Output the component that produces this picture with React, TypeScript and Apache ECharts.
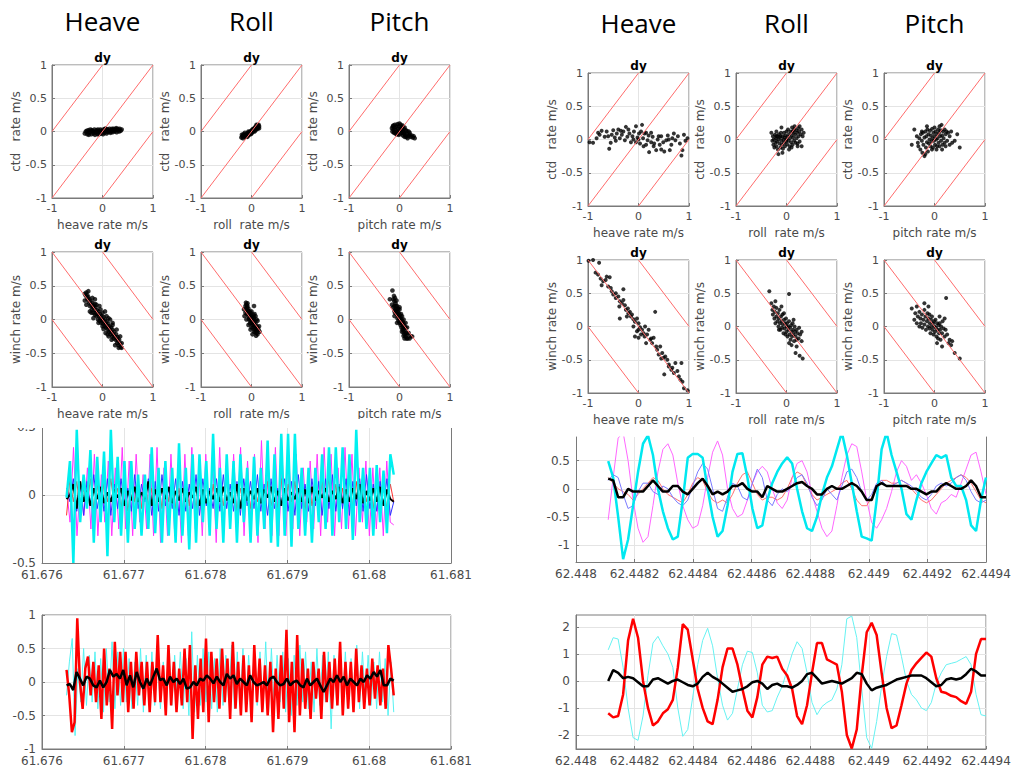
import React, { useEffect, useRef } from "react";
import * as echarts from "echarts";

// ---------- texts ----------
const GROUP_TITLES = ["Heave", "Roll", "Pitch"];
const PANEL_TITLE = "dy";
const X_NAMES = ["heave rate m/s", "roll  rate m/s", "pitch rate m/s"];
const Y_NAME_CTD = "ctd   rate m/s";
const Y_NAME_WINCH = "winch rate m/s";

// ---------- reference lines (y = ±x, ±x ± 1) ----------
const DIAG_UP = [
  [[-1, -1], [1, 1]],
  [[-1, 0], [0, 1]],
  [[0, -1], [1, 0]],
];
const DIAG_DOWN = [
  [[-1, 1], [1, -1]],
  [[-1, 0], [0, -1]],
  [[0, 1], [1, 0]],
];

// ---------- scatter data, left block ----------
const L_CTD_HEAVE = [
  [-0.35, -0.03], [-0.33, 0.0], [-0.3, -0.04], [-0.28, 0.02], [-0.26, -0.02], [-0.24, 0.03], [-0.22, -0.04], [-0.2, 0.01],
  [-0.18, -0.03], [-0.16, 0.03], [-0.14, -0.01], [-0.12, 0.02], [-0.1, -0.04], [-0.08, 0.01], [-0.06, -0.02], [-0.04, 0.03],
  [-0.02, -0.03], [0.0, 0.0], [0.02, 0.03], [0.04, -0.02], [0.06, 0.02], [0.08, -0.03], [0.1, 0.03], [0.12, -0.01],
  [0.14, 0.04], [0.16, -0.02], [0.18, 0.02], [0.2, -0.01], [0.22, 0.04], [0.24, 0.0], [0.26, 0.03], [0.28, -0.01],
  [0.3, 0.04], [0.32, 0.02], [0.34, 0.04], [0.36, 0.01], [0.38, 0.03], [-0.31, 0.01], [-0.27, -0.05], [-0.21, 0.02],
  [-0.15, -0.05], [-0.09, 0.03], [-0.03, 0.01], [0.03, 0.0], [0.09, 0.0], [0.15, 0.01], [0.21, 0.02], [0.27, 0.05],
  [0.33, 0.0], [-0.19, 0.0], [-0.11, 0.0], [0.05, 0.04], [0.11, 0.02], [0.19, 0.04], [0.25, 0.02], [-0.25, 0.0],
  [-0.07, -0.04], [0.01, -0.04], [0.07, 0.04], [0.17, 0.0],
];
const L_CTD_ROLL = [
  [-0.2, -0.09], [-0.18, -0.07], [-0.17, -0.1], [-0.15, -0.06], [-0.14, -0.08], [-0.12, -0.05], [-0.11, -0.08], [-0.1, -0.04],
  [-0.09, -0.06], [-0.08, -0.03], [-0.07, -0.06], [-0.06, -0.02], [-0.05, -0.05], [-0.04, -0.01], [-0.03, -0.03], [-0.02, 0.0],
  [-0.01, -0.02], [0.0, 0.01], [0.01, -0.01], [0.02, 0.03], [0.03, 0.0], [0.04, 0.04], [0.05, 0.02], [0.06, 0.05],
  [0.07, 0.03], [0.08, 0.07], [0.09, 0.04], [0.1, 0.08], [0.11, 0.05], [0.12, 0.09], [0.13, 0.06], [0.14, 0.1],
  [0.15, 0.08], [0.15, 0.05], [-0.16, -0.04], [-0.13, -0.02], [-0.1, -0.07], [-0.06, 0.0], [-0.02, -0.04], [0.02, 0.02],
  [0.06, 0.0], [0.1, 0.1], [0.12, 0.04], [-0.19, -0.05], [0.04, 0.01], [0.08, 0.02], [-0.08, -0.08], [0.0, -0.03],
];
const L_CTD_PITCH = [
  [-0.15, 0.05], [-0.14, 0.0], [-0.13, 0.08], [-0.12, 0.03], [-0.11, -0.02], [-0.1, 0.06], [-0.09, 0.1], [-0.08, 0.02],
  [-0.07, -0.03], [-0.06, 0.07], [-0.05, 0.0], [-0.04, 0.11], [-0.03, 0.04], [-0.02, -0.05], [-0.01, 0.08], [0.0, 0.02],
  [0.01, -0.04], [0.02, 0.1], [0.03, 0.05], [0.04, -0.02], [0.05, 0.07], [0.06, 0.0], [0.07, -0.06], [0.08, 0.04],
  [0.09, -0.03], [0.1, 0.06], [0.11, -0.05], [0.12, 0.02], [0.13, -0.08], [0.14, 0.01], [0.15, -0.04], [0.17, -0.07],
  [0.18, 0.0], [0.2, -0.05], [0.22, -0.08], [0.24, -0.06], [0.26, -0.09], [0.28, -0.07], [0.3, -0.1], [-0.12, 0.09],
  [-0.06, -0.04], [0.0, 0.12], [0.06, 0.09], [0.1, -0.08], [0.16, -0.1], [0.2, -0.02], [-0.1, -0.01], [-0.03, -0.02],
  [0.04, 0.03], [0.08, -0.01],
];
const L_WINCH_HEAVE = [
  [-0.35, 0.38], [-0.33, 0.35], [-0.32, 0.4], [-0.3, 0.3], [-0.3, 0.36], [-0.28, 0.33], [-0.27, 0.25], [-0.26, 0.3],
  [-0.25, 0.2], [-0.24, 0.27], [-0.22, 0.22], [-0.21, 0.15], [-0.2, 0.25], [-0.19, 0.18], [-0.18, 0.1], [-0.17, 0.2],
  [-0.16, 0.14], [-0.15, 0.07], [-0.14, 0.18], [-0.13, 0.1], [-0.12, 0.05], [-0.11, 0.14], [-0.1, 0.08], [-0.09, 0.0],
  [-0.08, 0.12], [-0.07, 0.05], [-0.06, -0.02], [-0.05, 0.08], [-0.04, 0.02], [-0.03, -0.05], [-0.02, 0.05], [-0.01, -0.01],
  [0.0, 0.0], [0.01, -0.06], [0.02, 0.04], [0.03, -0.03], [0.04, -0.1], [0.05, 0.0], [0.06, -0.06], [0.07, -0.12],
  [0.08, -0.03], [0.09, -0.09], [0.1, -0.15], [0.11, -0.06], [0.12, -0.12], [0.13, -0.18], [0.14, -0.1], [0.15, -0.16],
  [0.16, -0.22], [0.17, -0.12], [0.18, -0.19], [0.19, -0.25], [0.2, -0.15], [0.21, -0.22], [0.22, -0.28], [0.23, -0.18],
  [0.24, -0.25], [0.26, -0.3], [0.27, -0.22], [0.28, -0.28], [0.29, -0.35], [0.3, -0.26], [0.31, -0.32], [0.32, -0.38],
  [0.33, -0.3], [0.35, -0.36], [0.36, -0.41], [0.38, -0.35], [0.2, -0.08], [0.08, 0.05], [-0.15, 0.23], [-0.22, 0.1],
  [0.12, -0.25], [0.0, 0.1], [0.0, -0.1],
  [-0.32, 0.22], [-0.28, 0.42], [-0.25, 0.12], [-0.2, 0.32], [-0.18, 0.02], [-0.12, 0.22], [-0.08, -0.05], [-0.04, 0.15],
  [0.02, -0.14], [0.05, 0.12], [0.1, -0.22], [0.12, 0.02], [0.18, -0.3], [0.2, -0.05], [0.25, -0.38], [0.28, -0.15],
  [0.32, -0.42], [0.35, -0.25], [0.38, -0.42], [-0.35, 0.28], [0.15, 0.0], [-0.15, 0.3], [0.06, -0.2], [-0.06, 0.2],
];
const L_WINCH_ROLL = [
  [-0.12, 0.2], [-0.11, 0.25], [-0.1, 0.15], [-0.1, 0.22], [-0.09, 0.18], [-0.08, 0.1], [-0.08, 0.2], [-0.07, 0.13],
  [-0.06, 0.05], [-0.06, 0.16], [-0.05, 0.09], [-0.04, 0.02], [-0.04, 0.12], [-0.03, 0.06], [-0.02, -0.02], [-0.02, 0.1],
  [-0.01, 0.03], [0.0, -0.05], [0.0, 0.05], [0.01, -0.01], [0.02, -0.08], [0.02, 0.04], [0.03, -0.04], [0.04, -0.12],
  [0.04, 0.0], [0.05, -0.07], [0.06, -0.15], [0.06, -0.03], [0.07, -0.1], [0.08, -0.18], [0.08, -0.06], [0.09, -0.13],
  [0.1, -0.2], [0.1, -0.1], [0.11, -0.16], [0.12, -0.22], [0.12, -0.12], [-0.05, 0.0], [0.05, 0.03], [0.0, 0.12],
  [0.0, -0.12], [-0.09, 0.08], [0.09, -0.24], [-0.03, -0.06], [0.03, 0.07], [0.14, -0.15], [0.05, 0.2],
  [-0.15, 0.15], [-0.14, 0.05], [-0.1, 0.0], [-0.06, -0.08], [0.08, 0.05], [0.12, -0.02], [0.15, -0.1], [0.16, -0.18],
  [0.02, -0.22], [-0.12, 0.1], [0.1, 0.0], [0.05, -0.18], [-0.08, 0.24], [0.06, 0.08], [-0.02, -0.15],
];
const L_WINCH_PITCH = [
  [-0.12, 0.3], [-0.11, 0.35], [-0.1, 0.2], [-0.1, 0.27], [-0.09, 0.32], [-0.08, 0.15], [-0.08, 0.24], [-0.07, 0.2],
  [-0.07, 0.1], [-0.06, 0.28], [-0.06, 0.15], [-0.05, 0.08], [-0.05, 0.2], [-0.04, 0.12], [-0.04, 0.02], [-0.03, 0.16],
  [-0.03, 0.06], [-0.02, -0.02], [-0.02, 0.1], [-0.01, 0.03], [0.0, -0.05], [0.0, 0.07], [0.01, 0.0], [0.02, -0.08],
  [0.02, 0.04], [0.03, -0.03], [0.04, -0.12], [0.04, 0.0], [0.05, -0.06], [0.06, -0.15], [0.06, -0.03], [0.07, -0.1],
  [0.08, -0.18], [0.08, -0.06], [0.09, -0.13], [0.1, -0.22], [0.1, -0.1], [0.11, -0.16], [0.12, -0.25], [0.12, -0.12],
  [0.13, -0.2], [0.14, -0.28], [0.15, -0.22], [-0.09, 0.1], [0.05, 0.05], [-0.1, 0.13], [0.0, 0.18], [0.08, -0.24],
  [-0.14, 0.43], [-0.19, 0.3],
  [-0.15, 0.22], [-0.1, 0.05], [-0.05, -0.05], [0.05, -0.18], [0.1, -0.28], [0.15, -0.12], [0.18, -0.2], [0.2, -0.28],
  [0.22, -0.25], [0.25, -0.25], [0.0, 0.15], [0.08, 0.0], [0.12, -0.05], [-0.12, 0.18], [0.03, 0.08], [0.16, -0.28],
];

// ---------- scatter data, right block ----------
const R_CTD_HEAVE = [
  [-0.97, -0.04], [-0.9, -0.05], [-0.83, 0.02], [-0.77, 0.07], [-0.73, 0.13], [-0.67, 0.04], [-0.63, 0.12], [-0.58, -0.14],
  [-0.53, 0.07], [-0.5, 0.14], [-0.47, 0.03], [-0.43, 0.09], [-0.4, 0.15], [-0.37, 0.02], [-0.33, 0.07], [-0.3, 0.12],
  [-0.27, -0.01], [-0.25, 0.19], [-0.22, 0.04], [-0.18, 0.09], [-0.15, -0.04], [-0.12, 0.05], [-0.09, 0.12], [-0.05, -0.04],
  [-0.02, 0.03], [0.01, 0.09], [0.03, -0.06], [0.07, 0.22], [0.09, 0.02], [0.12, 0.09], [0.15, -0.08], [0.18, -0.01],
  [0.21, -0.19], [0.25, -0.04], [0.28, 0.04], [0.31, -0.06], [0.35, -0.16], [0.38, 0.0], [0.42, -0.08], [0.45, 0.05],
  [0.49, -0.04], [0.51, -0.18], [0.55, -0.01], [0.58, 0.06], [0.62, -0.16], [0.67, 0.02], [0.7, 0.09], [0.73, -0.01],
  [0.78, 0.05], [0.82, -0.06], [0.85, -0.24], [0.87, -0.16], [0.9, 0.07], [0.93, -0.02], [0.97, 0.02], [-0.6, 0.05],
  [-0.45, -0.02], [-0.35, 0.13], [-0.2, 0.15], [-0.1, 0.0], [0.0, 0.0], [0.05, 0.12], [0.1, -0.1], [0.2, 0.06],
  [0.3, -0.1], [0.4, 0.05], [0.45, -0.15], [0.6, 0.0], [0.65, -0.08], [-0.8, 0.1], [-0.55, -0.05], [0.15, 0.1],
  [-0.05, 0.2], [0.25, 0.1],
];
const R_CTD_ROLL = [
  [-0.3, 0.1], [-0.28, -0.02], [-0.27, 0.05], [-0.26, -0.08], [-0.25, 0.0], [-0.24, -0.12], [-0.23, 0.07], [-0.22, -0.05],
  [-0.21, 0.02], [-0.2, -0.1], [-0.2, 0.12], [-0.19, -0.03], [-0.18, 0.05], [-0.17, -0.15], [-0.16, 0.0], [-0.16, -0.22],
  [-0.15, 0.08], [-0.14, -0.06], [-0.13, 0.03], [-0.12, -0.12], [-0.11, 0.1], [-0.1, -0.02], [-0.1, 0.18], [-0.09, -0.08],
  [-0.08, 0.05], [-0.07, -0.14], [-0.06, 0.0], [-0.05, 0.1], [-0.05, -0.05], [-0.04, 0.03], [-0.03, -0.1], [-0.02, 0.06],
  [-0.01, -0.03], [0.0, 0.12], [0.0, 0.0], [0.01, -0.07], [0.02, 0.04], [0.03, 0.15], [0.04, -0.02], [0.05, 0.08],
  [0.06, -0.1], [0.07, 0.02], [0.08, 0.12], [0.09, -0.04], [0.1, 0.06], [0.11, 0.18], [0.12, -0.08], [0.13, 0.03],
  [0.14, 0.1], [0.15, -0.02], [0.16, 0.2], [0.17, 0.07], [0.18, -0.05], [0.19, 0.14], [0.2, 0.02], [0.21, 0.1],
  [0.22, -0.06], [0.23, 0.17], [0.24, 0.05], [0.25, 0.12], [0.26, -0.03], [0.28, 0.08], [0.3, 0.15], [0.32, 0.05],
  [0.34, 0.1], [0.3, -0.1], [0.22, -0.1], [0.15, 0.15], [-0.12, 0.05], [-0.2, 0.05], [0.05, -0.15], [0.1, -0.12],
  [-0.08, -0.2], [0.12, 0.12], [0.26, 0.2],
];
const R_CTD_PITCH = [
  [-0.45, -0.08], [-0.4, 0.15], [-0.35, 0.05], [-0.33, -0.05], [-0.32, -0.1], [-0.3, 0.02], [-0.28, -0.15], [-0.27, 0.08],
  [-0.25, -0.02], [-0.24, -0.2], [-0.23, 0.1], [-0.22, -0.08], [-0.2, 0.03], [-0.2, -0.25], [-0.18, 0.12], [-0.17, -0.12],
  [-0.16, 0.05], [-0.15, -0.04], [-0.14, 0.15], [-0.13, -0.18], [-0.12, 0.08], [-0.11, -0.06], [-0.1, 0.0], [-0.09, 0.13],
  [-0.08, -0.1], [-0.07, 0.06], [-0.06, -0.03], [-0.05, 0.16], [-0.04, 0.02], [-0.03, -0.12], [-0.02, 0.1], [-0.01, -0.02],
  [0.0, 0.05], [0.0, 0.18], [0.01, -0.08], [0.02, 0.12], [0.03, 0.0], [0.04, -0.15], [0.05, 0.08], [0.06, 0.02],
  [0.07, 0.15], [0.08, -0.05], [0.09, 0.1], [0.1, 0.2], [0.1, -0.1], [0.11, 0.05], [0.12, 0.14], [0.13, -0.02],
  [0.14, 0.22], [0.15, 0.06], [0.16, -0.08], [0.17, 0.12], [0.18, 0.02], [0.2, 0.15], [0.2, -0.05], [0.22, 0.08],
  [0.24, 0.12], [0.25, -0.02], [0.27, 0.1], [0.3, 0.05], [0.3, -0.08], [0.33, 0.12], [0.35, -0.05], [0.4, -0.02],
  [0.45, 0.08], [0.5, -0.12], [-0.15, 0.2], [-0.05, -0.15], [0.05, -0.1], [0.15, -0.15], [-0.25, 0.12], [0.22, -0.1],
  [-0.18, -0.22],
];
const R_WINCH_HEAVE = [
  [-0.99, 0.99], [-0.9, 1.0], [-0.78, 0.96], [-0.85, 0.81], [-0.8, 0.78], [-0.75, 0.72], [-0.7, 0.68], [-0.73, 0.62],
  [-0.63, 0.75], [-0.57, 0.74], [-0.6, 0.6], [-0.53, 0.53], [-0.5, 0.48], [-0.45, 0.43], [-0.4, 0.45], [-0.37, 0.38],
  [-0.33, 0.35], [-0.3, 0.4], [-0.27, 0.32], [-0.25, 0.25], [-0.21, 0.27], [-0.3, 0.56], [-0.37, 0.12], [-0.23, 0.15],
  [-0.17, 0.22], [-0.13, 0.18], [-0.1, 0.11], [-0.07, 0.07], [-0.03, 0.12], [0.0, 0.05], [0.03, -0.01], [0.07, -0.05],
  [-0.03, -0.07], [-0.07, -0.15], [0.0, -0.17], [0.1, -0.1], [0.13, 0.0], [0.17, -0.12], [0.2, -0.05], [0.23, -0.2],
  [0.27, -0.25], [0.33, 0.22], [0.3, -0.17], [0.37, -0.35], [0.4, -0.42], [0.43, -0.3], [0.47, -0.4], [0.5, -0.47],
  [0.53, -0.45], [0.57, -0.5], [0.6, -0.57], [0.51, -0.72], [0.67, -0.62], [0.7, -0.7], [0.77, -0.67], [0.73, -0.55],
  [0.8, -0.75], [0.85, -0.55], [0.83, -0.8], [0.87, -0.83], [0.9, -0.93], [0.97, -0.96], [-0.45, 0.5], [-0.2, 0.2],
  [-0.15, 0.15], [0.05, -0.12], [0.12, -0.15], [0.25, -0.18], [0.45, -0.48], [-0.55, 0.58], [-0.65, 0.7], [0.65, -0.65],
  [0.35, -0.3], [0.6, -0.6], [-0.38, 0.3], [0.15, -0.25], [0.0, -0.05], [-0.1, 0.0],
];
const R_WINCH_ROLL = [
  [-0.3, 0.35], [-0.28, 0.25], [-0.27, 0.18], [-0.25, 0.3], [-0.24, 0.12], [-0.23, 0.22], [-0.22, 0.05], [-0.2, 0.15],
  [-0.2, 0.28], [-0.18, 0.08], [-0.17, 0.2], [-0.16, 0.0], [-0.15, 0.12], [-0.14, 0.25], [-0.13, 0.05], [-0.12, -0.05],
  [-0.11, 0.15], [-0.1, 0.08], [-0.09, -0.02], [-0.08, 0.18], [-0.07, 0.03], [-0.06, -0.1], [-0.05, 0.1], [-0.04, -0.03],
  [-0.03, 0.05], [-0.02, -0.12], [-0.01, 0.12], [0.0, 0.0], [0.0, -0.08], [0.01, 0.05], [0.02, -0.15], [0.03, 0.0],
  [0.04, -0.05], [0.05, 0.08], [0.06, -0.12], [0.07, -0.02], [0.08, -0.2], [0.09, 0.02], [0.1, -0.08], [0.11, -0.15],
  [0.12, 0.05], [0.13, -0.05], [0.14, -0.12], [0.15, -0.22], [0.16, 0.0], [0.17, -0.08], [0.18, -0.15], [0.2, -0.05],
  [0.2, -0.2], [0.22, -0.1], [0.24, -0.18], [0.25, -0.02], [0.27, -0.12], [0.3, -0.08], [0.3, -0.22], [-0.34, 0.53],
  [0.05, 0.49], [0.18, -0.4], [0.26, -0.44], [0.32, -0.48], [-0.05, 0.2], [0.1, -0.28], [0.2, -0.3], [-0.22, 0.38],
  [0.05, -0.25], [-0.15, -0.05], [-0.1, 0.3], [0.14, 0.1],
];
const R_WINCH_PITCH = [
  [-0.45, 0.27], [-0.4, 0.1], [-0.38, 0.2], [-0.35, 0.05], [-0.33, 0.15], [-0.3, 0.22], [-0.3, 0.0], [-0.28, 0.12],
  [-0.27, 0.05], [-0.25, 0.18], [-0.24, -0.02], [-0.22, 0.1], [-0.2, 0.25], [-0.2, 0.03], [-0.18, 0.15], [-0.17, -0.05],
  [-0.15, 0.08], [-0.14, 0.2], [-0.13, 0.0], [-0.12, 0.12], [-0.1, -0.03], [-0.1, 0.18], [-0.09, 0.05], [-0.08, -0.1],
  [-0.07, 0.1], [-0.06, 0.0], [-0.05, 0.15], [-0.04, -0.05], [-0.03, 0.05], [-0.02, -0.12], [-0.01, 0.08], [0.0, 0.0],
  [0.01, -0.08], [0.02, 0.1], [0.03, -0.02], [0.04, -0.15], [0.05, 0.05], [0.06, -0.05], [0.07, -0.18], [0.08, 0.02],
  [0.09, -0.1], [0.1, 0.05], [0.11, -0.05], [0.12, -0.2], [0.13, 0.0], [0.15, -0.1], [0.16, 0.08], [0.18, -0.03],
  [0.2, -0.15], [0.2, 0.12], [0.22, -0.05], [0.23, 0.43], [0.25, -0.12], [0.28, -0.25], [0.3, -0.2], [0.33, -0.28],
  [0.35, -0.22], [0.4, -0.4], [0.5, -0.48], [-0.2, 0.35], [-0.12, 0.3], [0.05, -0.25], [0.15, -0.3], [-0.35, 0.3],
  [0.1, 0.15],
];

// ---------- time series (uniformly sampled between start and end time) ----------
const LEFT_T = [61.6763, 61.6803];
const RIGHT_T = [62.44811, 62.4494];

const LT_CYAN = [
  -0.02, 0.25, -0.5, 0.48, -0.2, 0.15, -0.1, 0.33, -0.35, 0.28,
  -0.2, 0.32, -0.45, 0.48, -0.2, 0.28, -0.3, 0.25, -0.35, 0.25,
  -0.25, 0.15, -0.3, 0.15, -0.25, 0.35, -0.28, 0.2, -0.35, 0.25,
  -0.3, 0.2, -0.35, 0.38, -0.3, 0.2, -0.4, 0.3, -0.35, 0.3,
  -0.2, 0.25, -0.3, 0.45, -0.25, 0.2, -0.35, 0.3, -0.25, 0.25,
  -0.35, 0.3, -0.2, 0.2, -0.35, 0.28, -0.3, 0.2, -0.25, 0.4,
  -0.35, 0.3, -0.38, 0.45, -0.3, 0.45, -0.38, 0.45, -0.25, 0.2,
  -0.3, 0.2, -0.35, 0.2, -0.2, 0.3, -0.25, 0.35, -0.3, 0.35,
  -0.2, 0.35, -0.25, 0.3, -0.33, 0.48, -0.2, 0.2, -0.25, 0.2,
  -0.3, 0.22, -0.2, 0.18, -0.28, 0.3, 0.15,
];
const LT_MAGENTA = [
  0.05, -0.2, 0.35, -0.3, 0.1, -0.15, 0.2, -0.25, 0.3, -0.3, 0.15, -0.2, 0.25, -0.3, 0.2, -0.25, 0.35, -0.25, 0.25, -0.3,
  0.3, -0.2, 0.15, -0.25, 0.3, -0.3, 0.35, -0.35, 0.2, -0.3, 0.3, -0.25, 0.2, -0.35, 0.3, -0.3, 0.35, -0.25, 0.2, -0.3,
  0.3, -0.2, 0.25, -0.35, 0.35, -0.3, 0.2, -0.25, 0.3, -0.2, 0.35, -0.3, 0.25, -0.2, 0.3, -0.35, 0.4, -0.25, 0.2, -0.3,
  0.35, -0.3, 0.25, -0.3, 0.2, -0.25, 0.3, -0.3, 0.2, -0.2, 0.25, -0.25, 0.3, -0.3, 0.35, -0.2, 0.3, -0.3, 0.2, -0.25,
  0.35, -0.25, 0.3, -0.3, 0.2, -0.2, 0.25, -0.3, 0.2, -0.25, 0.2, -0.3, 0.25, -0.2, -0.22,
];
const LT_BLUE = [
  0.05, -0.05, 0.12, -0.12, 0.08, -0.15, 0.1, -0.08, 0.15, -0.1, 0.05, -0.12, 0.12, -0.15, 0.08, -0.1, 0.12, -0.08, 0.05, -0.12,
  0.15, -0.1, 0.08, -0.05, 0.12, -0.15, 0.1, -0.12, 0.15, -0.08, 0.05, -0.1, 0.12, -0.15, 0.1, -0.12, 0.08, -0.1, 0.15, -0.15,
  0.12, -0.08, 0.05, -0.1, 0.12, -0.12, 0.15, -0.1, 0.08, -0.12, 0.1, -0.15, 0.12, -0.08, 0.1, -0.1, 0.15, -0.12, 0.08, -0.15,
  0.12, -0.1, 0.05, -0.08, 0.12, -0.12, 0.1, -0.15, 0.15, -0.1, 0.08, -0.12, 0.12, -0.08, 0.1, -0.15, 0.12, -0.1, 0.15, -0.12,
  0.08, -0.1, 0.12, -0.15, 0.1, -0.08, 0.12, -0.12, 0.15, -0.1, 0.08, -0.12, 0.1, -0.08, 0.12, -0.15, -0.05,
];
const LT_RED = [
  -0.15, 0.12, -0.05, 0.1, -0.1, 0.05, -0.08, 0.12, -0.1, 0.08, -0.12, 0.1, -0.05, 0.12, -0.08, 0.05, -0.1, 0.1, -0.12, 0.08,
  -0.05, 0.1, -0.1, 0.12, -0.08, 0.05, -0.12, 0.1, -0.1, 0.08, -0.05, 0.12, -0.1, 0.05, -0.12, 0.1, -0.08, 0.08, -0.1, 0.12,
  -0.05, 0.1, -0.12, 0.08, -0.1, 0.05, -0.08, 0.12, -0.1, 0.1, -0.12, 0.05, -0.08, 0.1, -0.1, 0.12, -0.05, 0.08, -0.12, 0.1,
  -0.08, 0.05, -0.1, 0.12, -0.12, 0.08, -0.05, 0.1, -0.1, 0.08, -0.12, 0.12, -0.08, 0.05, -0.1, 0.1, -0.05, 0.12, -0.12, 0.08,
  -0.1, 0.05, -0.08, 0.12, -0.1, 0.1, -0.12, 0.08, -0.05, 0.1, -0.1, 0.12, -0.08, 0.05, -0.1, 0.08, -0.05,
];
const LT_BLACK = [
  -0.03, 0.0, 0.08, -0.1, 0.1, -0.05, 0.03, -0.08, 0.05, -0.03, 0.06, -0.06, 0.02, -0.05, 0.04, -0.02, 0.05, -0.08, 0.03, -0.04,
  0.06, -0.05, 0.02, -0.03, 0.1, -0.08, 0.04, -0.05, 0.05, -0.03, 0.06, -0.06, 0.03, -0.04, 0.05, -0.05, 0.02, -0.02, 0.06, -0.08,
  0.04, -0.06, 0.03, -0.03, 0.05, -0.05, 0.06, -0.04, 0.02, -0.06, 0.08, -0.1, 0.05, -0.04, 0.03, -0.03, 0.05, -0.06, 0.04, -0.02,
  0.06, -0.05, 0.03, -0.08, 0.05, -0.04, 0.02, -0.03, 0.05, -0.05, 0.04, -0.06, 0.06, -0.04, 0.03, -0.02, 0.05, -0.05, 0.03, -0.03,
  0.06, -0.06, 0.04, -0.05, 0.05, -0.03, 0.08, -0.06, 0.03, -0.04, 0.05, -0.05, 0.06, -0.08, 0.04, -0.03, -0.05,
];

const LB_RED = [
  0.18, -0.2, -0.75, -0.6, 0.95, 0.0, -0.4, 0.2, 0.38, -0.2, 0.3, -0.3, 0.25, -0.55, 0.5, -0.35, 0.2, -0.7, 0.6, -0.2,
  0.45, -0.3, 0.45, -0.45, 0.3, -0.4, 0.45, -0.2, 0.3, -0.35, 0.3, -0.45, 0.3, -0.3, 0.7, -0.3, 0.25, -0.5, 0.55, -0.35,
  0.3, -0.45, 0.2, -0.35, 0.5, -0.3, 0.55, -0.85, 0.25, -0.55, 0.35, -0.45, 0.65, -0.6, 0.45, -0.3, 0.35, -0.4, 0.5, -0.3,
  0.35, -0.55, 0.6, -0.4, 0.3, -0.5, 0.4, -0.45, 0.25, -0.6, 0.55, -0.3, 0.35, -0.45, 0.25, -0.5, 0.3, -0.75, 0.2, -0.55,
  0.4, -0.4, 0.78, -0.6, 0.3, -0.75, 0.7, -0.5, 0.35, -0.4, 0.2, -0.55, 0.3, -0.25, 0.2, -0.55, 0.45, -0.3, 0.3, -0.4,
  0.35, -0.35, 0.6, -0.5, 0.3, -0.4, 0.3, -0.45, 0.5, -0.3, 0.25, -0.4, 0.2, -0.35, 0.35, -0.25, 0.25, -0.35, 0.2, -0.4,
  0.55, 0.2, -0.2,
];
const LB_CYAN = [
  -0.2, 0.3, 0.65, -0.8, 0.2, -0.3, 0.5, -0.35, 0.4, -0.3, 0.45, -0.4, 0.35, -0.45, 0.5, -0.3, 0.6, -0.4, 0.45, -0.35,
  0.5, -0.3, 0.35, -0.4, 0.3, -0.35, 0.5, -0.45, 0.4, -0.3, 0.45, -0.35, 0.35, -0.4, 0.3, -0.45, 0.5, -0.35, 0.4, -0.3,
  0.45, -0.4, 0.35, -0.5, 0.75, -0.45, 0.4, -0.35, 0.5, -0.3, 0.45, -0.4, 0.35, -0.45, 0.5, -0.35, 0.4, -0.3, 0.55, -0.4,
  0.45, -0.35, 0.5, -0.45, 0.4, -0.3, 0.55, -0.35, 0.45, -0.4, 0.6, -0.45, 0.5, -0.35, 0.4, -0.3, 0.45, -0.45, 0.35, -0.5,
  0.4, -0.35, 0.55, -0.3, 0.45, -0.4, 0.3, -0.45, 0.5, -0.35, 0.4, -0.3, 0.45, -0.7, 0.4, -0.35, 0.5, -0.3, 0.45, -0.4,
  0.35, -0.35, 0.55, -0.4, 0.45, -0.3, 0.4, -0.35, 0.3, -0.4, 0.45, -0.3, 0.35, -0.5, 0.3, -0.45,
];
const LB_BLACK = [
  -0.05, -0.03, -0.12, 0.15, 0.05, -0.05, 0.08, 0.05, -0.05, -0.08, 0.02, -0.08, 0.0, 0.18, 0.08, 0.12, 0.05, 0.18, -0.05, 0.1,
  -0.08, 0.15, 0.0, -0.1, 0.05, -0.05, 0.08, 0.2, 0.03, 0.05, -0.05, 0.08, 0.0, 0.05, -0.03, 0.05, -0.1, -0.08, 0.0, -0.05,
  0.05, 0.02, 0.1, 0.05, -0.02, 0.08, 0.0, -0.05, 0.12, 0.05, 0.1, -0.03, 0.05, 0.0, -0.05, 0.1, 0.0, -0.05, -0.03, 0.0,
  -0.05, 0.05, 0.08, 0.0, -0.05, -0.03, 0.05, -0.05, 0.0, 0.02, -0.05, -0.08, 0.05, -0.05, 0.0, 0.05, -0.05, -0.15, -0.05, 0.05,
  0.0, 0.1, 0.0, 0.08, -0.05, 0.05, 0.0, -0.05, 0.05, 0.0, 0.1, 0.05, 0.15, 0.08, 0.18, -0.05, -0.05, 0.05, 0.02,
];

const RT_CYAN = [
  0.49, 0.2, -0.5, -1.25, -0.9, -0.3, 0.3, 0.8, 0.95, 0.6, 0.0, -0.4, -0.7, -0.9, -0.85, -0.2, 0.55, 0.62, 0.62, 0.55,
  0.0, -0.5, -0.85, -0.75, -0.3, 0.3, 0.62, 0.63, 0.2, -0.35, -0.7, -0.65, -0.2, 0.1, 0.3, 0.45, 0.56, 0.45, 0.0, -0.4,
  -0.7, -0.75, -0.5, -0.1, 0.2, 0.4, 0.7, 1.0, 0.6, 0.1, -0.4, -0.85, -0.88, -0.92, -0.2, 0.7, 1.0, 0.6, 0.3, 0.0,
  -0.45, -0.55, -0.2, 0.1, 0.3, 0.45, 0.6, 0.55, 0.6, 0.2, 0.05, 0.05, -0.2, -0.65, -0.75, -0.2, 0.2,
];
const RT_MAGENTA = [
  -0.55, 0.2, 0.9, 1.0, 0.5, -0.2, -0.7, -0.95, -0.85, -0.3, 0.3, 0.7, 0.8, 0.6, 0.1, -0.3, -0.55, -0.7, -0.65, -0.3,
  0.2, 0.65, 0.85, 0.6, 0.0, -0.35, -0.5, -0.45, -0.2, 0.1, 0.3, 0.4, 0.3, 0.0, -0.25, -0.35, -0.2, 0.2, 0.45, 0.5,
  0.3, -0.1, -0.4, -0.7, -0.85, -0.75, -0.3, 0.2, 0.6, 0.8, 0.75, 0.3, -0.2, -0.6, -0.7, -0.55, -0.35, -0.05, 0.3, 0.5,
  0.4, 0.15, 0.25, 0.1, -0.1, -0.35, -0.45, -0.25, -0.2, -0.1, -0.15, 0.1, 0.35, 0.6, 0.65, 0.3, -0.1,
];
const RT_BLUE = [
  0.15, 0.25, 0.2, -0.1, -0.35, -0.3, -0.05, 0.1, 0.1, -0.05, -0.1, 0.05, 0.0, -0.15, -0.25, -0.3, -0.2, 0.05, 0.3, 0.45,
  0.35, 0.0, -0.35, -0.4, -0.15, 0.1, 0.05, -0.15, -0.2, 0.1, 0.35, 0.2, -0.2, -0.3, -0.1, 0.0, -0.05, 0.05, 0.2, 0.25,
  0.1, -0.15, -0.3, -0.2, 0.0, -0.1, -0.2, 0.05, 0.3, 0.35, 0.2, -0.05, -0.2, -0.1, 0.1, 0.15, 0.05, 0.05, 0.1, 0.15,
  0.1, 0.05, -0.05, -0.15, -0.2, -0.1, 0.05, 0.1, 0.05, 0.1, 0.2, 0.25, 0.15, -0.05, -0.2, -0.25, -0.2,
];
const RT_RED = [
  0.2, 0.1, 0.0, -0.05, -0.1, -0.2, -0.1, 0.0, 0.1, 0.2, 0.15, 0.0, -0.1, -0.15, -0.2, -0.25, -0.1, 0.1, 0.2, 0.15,
  -0.05, -0.2, -0.25, -0.2, -0.25, -0.1, 0.1, 0.25, 0.3, 0.1, -0.1, -0.2, -0.15, -0.15, -0.2, -0.15, 0.0, 0.2, 0.3, 0.25,
  0.05, -0.1, -0.2, -0.15, -0.1, -0.05, 0.0, 0.1, 0.15, 0.0, -0.2, -0.3, -0.3, -0.15, 0.05, 0.15, 0.15, 0.1, 0.1, 0.15,
  0.1, 0.0, -0.1, -0.2, -0.25, -0.2, -0.1, 0.0, 0.1, 0.15, 0.2, 0.25, 0.2, 0.1, -0.05, -0.2, -0.25,
];
const RT_BLACK = [
  0.18, 0.15, -0.15, -0.15, 0.0, -0.05, -0.05, -0.05, 0.05, 0.15, 0.05, -0.05, -0.05, 0.05, 0.05, -0.05, -0.1, 0.0, 0.1, 0.18,
  0.05, -0.1, -0.05, -0.1, -0.05, 0.05, 0.05, 0.1, 0.0, -0.05, -0.05, -0.15, 0.05, 0.0, -0.05, -0.05, 0.0, 0.05, 0.1, 0.12,
  0.05, 0.0, -0.1, -0.1, 0.0, 0.05, 0.0, 0.0, 0.05, 0.1, 0.05, -0.05, -0.2, -0.2, 0.05, 0.1, 0.05, 0.05, 0.05, 0.05,
  0.05, 0.0, 0.0, -0.05, -0.1, -0.05, -0.05, 0.05, 0.1, 0.05, 0.0, 0.0, 0.05, 0.15, 0.05, -0.15, -0.15,
];

const RB_RED = [
  -1.2, -1.35, -1.3, -0.5, 1.5, 2.3, 1.6, 0.0, -1.0, -1.65, -1.5, -1.2, -1.05, -0.7, 0.5, 2.1, 1.9, 0.8, -0.3, -1.0,
  -1.5, -1.6, -0.7, 0.5, 1.2, 1.2, 0.6, -0.3, -1.1, -1.35, -0.6, 0.6, 0.9, 0.85, 0.9, 0.45, 0.2, -0.3, -1.3, -1.6,
  -0.9, 0.3, 1.4, 1.4, 0.8, 0.7, 0.6, -0.4, -2.0, -2.5, -1.8, 0.2, 1.8, 2.15, 1.7, 0.3, -1.0, -1.75, -1.65, -0.9,
  -0.1, 0.4, 0.65, 0.85, 1.05, 0.9, 0.1, -0.4, -0.45, -0.55, -0.6, -0.75, -0.85, -0.4, 1.0, 1.55, 1.55,
];
const RB_CYAN = [
  1.15, 1.6, 1.55, 0.5, -1.0, -2.1, -2.2, -1.3, 0.2, 1.4, 1.65, 1.3, 1.0, 0.5, -1.0, -2.05, -1.8, -0.6, 0.6, 1.5,
  1.95, 1.3, 0.1, -0.9, -1.45, -1.2, -0.3, 0.6, 1.1, 1.05, 0.3, -0.9, -1.15, -1.1, -0.6, -0.2, 0.4, 1.0, 1.45, 1.2,
  0.3, -0.8, -1.25, -0.95, -0.8, -0.7, -0.3, 0.6, 2.3, 2.4, 1.6, -0.3, -2.1, -2.5, -1.5, -0.2, 0.9, 1.75, 1.7, 0.9,
  0.0, -0.5, -0.7, -1.0, -1.1, -0.8, -0.1, 0.3, 0.6, 0.65, 0.7, 0.8, 0.9, 0.6, -0.5, -1.25, -1.3,
];
const RB_BLACK = [
  0.0, 0.4, 0.3, 0.1, 0.15, 0.1, -0.05, -0.2, -0.2, 0.05, 0.1, 0.0, -0.1, 0.0, 0.05, -0.05, -0.15, -0.2, -0.1, 0.15,
  0.3, 0.15, 0.05, -0.1, -0.25, -0.4, -0.35, -0.3, -0.2, -0.05, 0.0, -0.1, -0.3, -0.15, -0.1, -0.2, -0.2, -0.25, -0.15, 0.0,
  0.25, 0.3, 0.1, -0.1, -0.05, 0.0, -0.05, -0.1, 0.0, 0.1, 0.3, 0.25, -0.1, -0.35, -0.25, -0.2, -0.15, -0.05, 0.05, 0.1,
  0.15, 0.2, 0.2, 0.2, 0.1, -0.05, -0.2, -0.15, 0.05, 0.1, 0.05, 0.1, 0.25, 0.45, 0.35, 0.2, 0.2,
];

// ---------- styling ----------
const FONT = "DejaVu Sans";
const AXIS_COLOR = "#7a7a7a";
const LABEL_COLOR = "#4a4a4a";
const GRID_COLOR = "#e4e4e4";
const DIAG_COLOR = "#ff6b6b";

function tsPairs(values: number[], span: number[]) {
  const n = values.length;
  return values.map((v, i) => [span[0] + ((span[1] - span[0]) * i) / (n - 1), v]);
}

function buildOption() {
  const grids: any[] = [];
  const xAxes: any[] = [];
  const yAxes: any[] = [];
  const series: any[] = [];
  const graphics: any[] = [];

  const axisCommon = {
    axisLine: { show: true, onZero: false, lineStyle: { color: AXIS_COLOR, width: 1 } },
    axisTick: { show: true, inside: true, length: 3, lineStyle: { color: AXIS_COLOR } },
    splitLine: { show: true, lineStyle: { color: GRID_COLOR, width: 1 } },
  };

  const leftCols = [52, 201, 349];
  const rightCols = [588, 736, 884];
  const colW = 101;

  const panels = [
    { cols: leftCols, top: 65, h: 133, pts: [L_CTD_HEAVE, L_CTD_ROLL, L_CTD_PITCH], diag: DIAG_UP, yName: Y_NAME_CTD, dot: 4.6 },
    { cols: leftCols, top: 252, h: 135, pts: [L_WINCH_HEAVE, L_WINCH_ROLL, L_WINCH_PITCH], diag: DIAG_DOWN, yName: Y_NAME_WINCH, dot: 4.6 },
    { cols: rightCols, top: 73, h: 133, pts: [R_CTD_HEAVE, R_CTD_ROLL, R_CTD_PITCH], diag: DIAG_UP, yName: Y_NAME_CTD, dot: 4 },
    { cols: rightCols, top: 260, h: 133, pts: [R_WINCH_HEAVE, R_WINCH_ROLL, R_WINCH_PITCH], diag: DIAG_DOWN, yName: Y_NAME_WINCH, dot: 4 },
  ];

  panels.forEach((row) => {
    row.cols.forEach((left, c) => {
      const gi = grids.length;
      grids.push({ left, top: row.top, width: colW, height: row.h, show: true, borderColor: AXIS_COLOR, borderWidth: 1 });
      const xi = xAxes.length;
      xAxes.push({
        type: "value", gridIndex: gi, min: -1, max: 1, interval: 1,
        name: X_NAMES[c], nameLocation: "middle", nameGap: 21,
        nameTextStyle: { fontFamily: FONT, fontSize: 12, color: LABEL_COLOR },
        axisLabel: { fontFamily: FONT, fontSize: 11, color: LABEL_COLOR, margin: 5 },
        ...axisCommon,
      });
      const yi = yAxes.length;
      yAxes.push({
        type: "value", gridIndex: gi, min: -1, max: 1, interval: 0.5,
        name: row.yName, nameLocation: "middle", nameGap: 27,
        nameTextStyle: { fontFamily: FONT, fontSize: 12, color: LABEL_COLOR },
        axisLabel: { fontFamily: FONT, fontSize: 11, color: LABEL_COLOR, margin: 5 },
        ...axisCommon,
      });
      series.push({
        type: "scatter", xAxisIndex: xi, yAxisIndex: yi, data: row.pts[c],
        symbol: "circle", symbolSize: row.dot, itemStyle: { color: "#000" }, silent: true, z: 2,
      });
      row.diag.forEach((seg) => {
        series.push({
          type: "line", xAxisIndex: xi, yAxisIndex: yi, data: seg, symbol: "none",
          lineStyle: { color: DIAG_COLOR, width: 1 }, silent: true, z: 3,
        });
      });
      graphics.push({
        type: "text", x: left + colW / 2, y: row.top - 1, z: 10,
        style: {
          text: PANEL_TITLE, font: `bold 12px "${FONT}"`, fill: "#000",
          textAlign: "center", align: "center", textVerticalAlign: "bottom", verticalAlign: "bottom",
        },
      });
    });
  });

  // group titles
  [leftCols, rightCols].forEach((cols, b) => {
    cols.forEach((left, c) => {
      graphics.push({
        type: "text", x: left + colW / 2, y: b === 0 ? 21 : 23, z: 10,
        style: {
          text: GROUP_TITLES[c], font: `26px "Open Sans"`, fill: "#000",
          textAlign: "center", align: "center", textVerticalAlign: "middle", verticalAlign: "middle",
        },
      });
    });
  });

  // time series panels
  const tsPanels = [
    {
      rect: { left: 42, top: 427, width: 409, height: 136 }, x: [61.676, 61.681, 0.001], y: [-0.5, 0.5], yTicks: [-0.5, 0, 0.5],
      topBorder: false, span: LEFT_T,
      lines: [
        { d: LT_MAGENTA, c: "#ff33ff", w: 1 }, { d: LT_RED, c: "#ff3030", w: 1 }, { d: LT_BLUE, c: "#3030ff", w: 1 },
        { d: LT_BLACK, c: "#000000", w: 2 }, { d: LT_CYAN, c: "#00f0f0", w: 2.5 },
      ],
    },
    {
      rect: { left: 576, top: 437, width: 410, height: 125 }, x: [62.448, 62.4494, 0.0002], y: [-1.3, 0.92], yTicks: [-1, -0.5, 0, 0.5],
      topBorder: false, span: RIGHT_T,
      lines: [
        { d: RT_MAGENTA, c: "#ff66ff", w: 1 }, { d: RT_RED, c: "#ff7070", w: 1 }, { d: RT_BLUE, c: "#7a7aff", w: 1 },
        { d: RT_CYAN, c: "#00e8f0", w: 2.5 }, { d: RT_BLACK, c: "#000000", w: 2.5 },
      ],
    },
    {
      rect: { left: 42, top: 615, width: 409, height: 134 }, x: [61.676, 61.681, 0.001], y: [-1, 1], yTicks: [-1, -0.5, 0, 0.5, 1],
      topBorder: true, span: LEFT_T,
      lines: [
        { d: LB_CYAN, c: "#55f2f2", w: 1 }, { d: LB_RED, c: "#ff0000", w: 2.5 }, { d: LB_BLACK, c: "#000000", w: 2.5 },
      ],
    },
    {
      rect: { left: 576, top: 615, width: 410, height: 134 }, x: [62.448, 62.4494, 0.0002], y: [-2.52, 2.44], yTicks: [-2, -1, 0, 1, 2],
      topBorder: true, span: RIGHT_T,
      lines: [
        { d: RB_CYAN, c: "#66f2f2", w: 1 }, { d: RB_RED, c: "#ff0000", w: 2.5 }, { d: RB_BLACK, c: "#000000", w: 2.5 },
      ],
    },
  ];

  tsPanels.forEach((p) => {
    const gi = grids.length;
    grids.push({ ...p.rect, show: p.topBorder, borderColor: AXIS_COLOR, borderWidth: 1 });
    const xi = xAxes.length;
    xAxes.push({
      type: "value", gridIndex: gi, min: p.x[0], max: p.x[1], interval: p.x[2],
      axisLabel: { fontFamily: FONT, fontSize: 12, color: LABEL_COLOR, margin: 6, interval: 0 },
      ...axisCommon,
    });
    const yi = yAxes.length;
    yAxes.push({
      type: "value", gridIndex: gi, min: p.y[0], max: p.y[1],
      axisLabel: { fontFamily: FONT, fontSize: 12, color: LABEL_COLOR, margin: 6, customValues: p.yTicks },
      ...axisCommon,
      axisTick: { ...axisCommon.axisTick, customValues: p.yTicks },
    });
    if (!p.topBorder) {
      yAxes.push({
        type: "value", gridIndex: gi, position: "right", min: p.y[0], max: p.y[1],
        axisLine: { show: true, onZero: false, lineStyle: { color: AXIS_COLOR } },
        axisLabel: { show: false }, axisTick: { show: false }, splitLine: { show: false },
      });
    }
    p.lines.forEach((l) => {
      series.push({
        type: "line", xAxisIndex: xi, yAxisIndex: yi, data: tsPairs(l.d, p.span), symbol: "none",
        showSymbol: false, clip: true, silent: true, lineStyle: { color: l.c, width: l.w },
      });
    });
  });

  // white strip over the cut-off top edge of the upper-left time-series panel
  graphics.push({
    type: "rect", z: 20, shape: { x: 0, y: 419, width: 470, height: 9 },
    style: { fill: "#ffffff" },
  });

  return {
    animation: false,
    backgroundColor: "#ffffff",
    grid: grids,
    xAxis: xAxes,
    yAxis: yAxes,
    series,
    graphic: { elements: graphics },
  };
}

export default function App() {
  const ref = useRef<HTMLDivElement>(null);
  useEffect(() => {
    document.body.style.margin = "0";
    if (!ref.current) return;
    const chart = echarts.init(ref.current, null, { renderer: "svg" });
    chart.setOption(buildOption() as any);
    return () => chart.dispose();
  }, []);
  return <div ref={ref} style={{ position: "absolute", left: 0, top: 0, width: 1014, height: 778 }} />;
}
